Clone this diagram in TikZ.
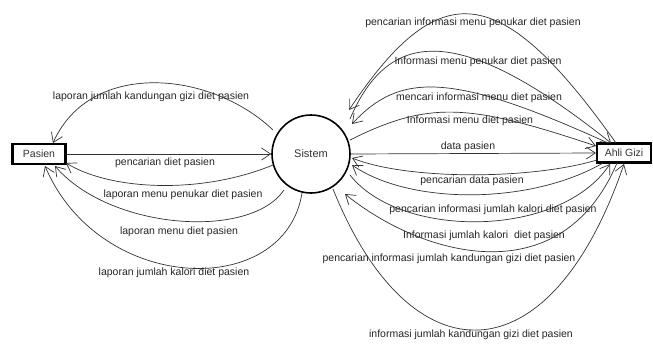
\documentclass[tikz,border=0pt]{standalone}
\usepackage{fontspec}
\setmainfont{Liberation Sans}
\usetikzlibrary{arrows.meta}
\begin{document}
\begin{tikzpicture}[x=1pt,y=-1pt,
  flow/.style={draw=black!80, line width=0.7pt, -{Straight Barb[length=9pt,width=12pt]}},
  lbl/.style={font=\fontsize{10.5}{12}\selectfont, text=black!85, inner sep=0pt},
  ent/.style={draw=black, line width=2.2pt, fill=white, inner sep=0pt, font=\fontsize{10.5}{12}\selectfont, text=black!80},
  proc/.style={circle, draw=black, line width=1.6pt, fill=white, minimum size=78pt, inner sep=0pt, font=\fontsize{11}{13}\selectfont, text=black!80}]
\fill[white] (0,0) rectangle (653,343);
\useasboundingbox (0,0) rectangle (653,343);

% nodes
\node[ent, minimum width=53pt, minimum height=20pt] (pas) at (39,154) {Pasien};
\node[proc] (sis) at (311,154) {Sistem};
\node[ent, minimum width=54pt, minimum height=19pt] (ahli) at (624,153) {Ahli Gizi};

% left side flows
\draw[flow] ([shift={(-38,-24)}]sis.center) .. controls (210,70) and (90,60) .. ([shift={(14,-11)}]pas.center);
\draw[flow] (pas.east) -- (sis.west);
\draw[flow] ([shift={(-38,11)}]sis.center) .. controls (200,195) and (110,190) .. ([shift={(27,9)}]pas.center);
\draw[flow] ([shift={(-27,36)}]sis.center) .. controls (250,240) and (110,230) .. ([shift={(16,12)}]pas.center);
\draw[flow] ([shift={(-9,39)}]sis.center) .. controls (285,300) and (100,295) .. ([shift={(6,12)}]pas.center);

% right side flows
\draw[flow] ([shift={(-8,-10)}]ahli.center) .. controls (500,-20) and (440,-26) .. ([shift={(38,-44)}]sis.center);
\draw[flow] ([shift={(39,-35)}]sis.center) .. controls (390,25) and (463,25) .. ([shift={(-13,-10)}]ahli.center);
\draw[flow] ([shift={(-16,-10)}]ahli.center) .. controls (452,72) and (400,72) .. ([shift={(41,-30)}]sis.center);
\draw[flow] ([shift={(39,-14)}]sis.center) .. controls (430,100) and (470,104) .. ([shift={(-28,-7)}]ahli.center);
\draw[flow] (sis.east) -- (ahli.west);
\draw[flow] ([shift={(-27,7)}]ahli.center) .. controls (530,180) and (407,180) .. ([shift={(41,4)}]sis.center);
\draw[flow] ([shift={(-21,10)}]ahli.center) .. controls (530,205) and (410,205) .. ([shift={(41,11)}]sis.center);
\draw[flow] ([shift={(39,21)}]sis.center) .. controls (400,239) and (560,239) .. ([shift={(-14,11)}]ahli.center);
\draw[flow] ([shift={(-7,10)}]ahli.center) .. controls (560,297) and (420,255) .. ([shift={(34,40)}]sis.center);
\draw[flow] ([shift={(22,35)}]sis.center) .. controls (410,381) and (550,381) .. ([shift={(0,11)}]ahli.center);

% labels left
\node[lbl] (l1) at (151,97) {laporan jumlah kandungan gizi diet pasien};
\node[lbl] (l2) at (165,163) {pencarian diet pasien};
\node[lbl] (l3) at (183,195) {laporan menu penukar diet pasien};
\node[lbl] (l4) at (179,232) {laporan menu diet pasien};
\node[lbl] (l5) at (174,273) {laporan jumlah kalori diet pasien};

% labels right
\node[lbl] (ra) at (473,23) {pencarian informasi menu penukar diet pasien};
\node[lbl] (rb) at (478,62) {Informasi menu penukar diet pasien};
\node[lbl] (rc) at (479,98) {mencari informasi menu diet pasien};
\node[lbl] (rd) at (470,121) {Informasi menu diet pasien};
\node[lbl] (re) at (468,147) {data pasien};
\node[lbl] (rf) at (472,181) {pencarian data pasien};
\node[lbl] (rg) at (493,210) {pencarian informasi jumlah kalori diet pasien};
\node[lbl] (rh) at (484,236) {Informasi jumlah kalori\ \ diet pasien};
\node[lbl] (ri) at (449,259) {pencarian informasi jumlah kandungan gizi diet pasien};
\node[lbl] (rj) at (471,335) {informasi jumlah kandungan gizi diet pasien};
\end{tikzpicture}
\end{document}
